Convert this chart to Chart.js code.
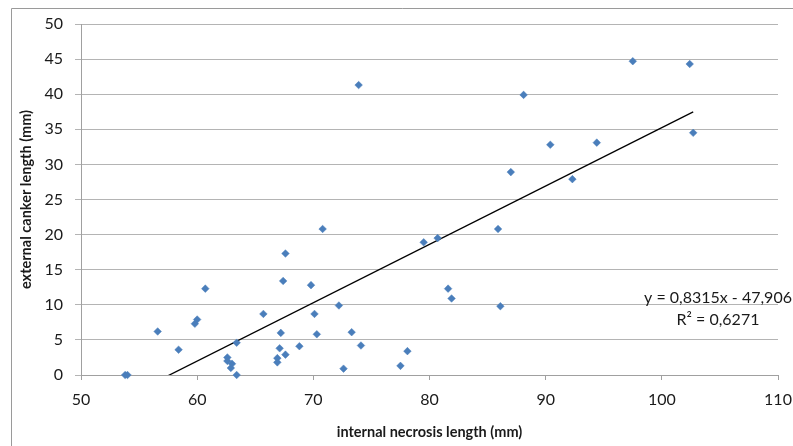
<!DOCTYPE html>
<html>
<head>
<meta charset="utf-8">
<script src="https://cdn.jsdelivr.net/npm/chart.js@4.4.1/dist/chart.umd.min.js"></script>
<style>
  html, body { margin: 0; padding: 0; background: #ffffff; }
  #wrap { width: 793px; height: 446px; }
</style>
</head>
<body>
<div id="wrap"><canvas id="c" width="793" height="446"></canvas></div>
<script>
// Internal necrosis length (mm) for each sample
const necrosis = [
  53.8, 54.0, 56.6, 58.4, 59.8, 60.0, 60.7, 62.6, 62.6, 63.0,
  62.9, 63.4, 63.4, 65.7, 66.9, 66.9, 67.1, 67.2, 67.6, 67.4,
  67.6, 68.8, 69.8, 70.1, 70.3, 70.8, 72.2, 72.6, 73.3, 73.9,
  74.1, 77.5, 78.1, 79.5, 80.7, 81.6, 81.9, 85.9, 86.1, 87.0,
  88.1, 90.4, 92.3, 94.4, 97.5, 102.4, 102.7
];
// External canker length (mm) for the same samples
const canker = [
  0.0, 0.0, 6.2, 3.6, 7.3, 7.9, 12.3, 2.5, 2.0, 1.6,
  1.0, 4.6, 0.0, 8.7, 2.4, 1.8, 3.8, 6.0, 2.9, 13.4,
  17.3, 4.1, 12.8, 8.7, 5.8, 20.8, 9.9, 0.9, 6.1, 41.3,
  4.2, 1.3, 3.4, 18.9, 19.5, 12.3, 10.9, 20.8, 9.8, 28.9,
  39.9, 32.8, 27.9, 33.1, 44.7, 44.3, 34.5
];
// Linear trend fitted to the samples
const trendSlope = 0.8315;
const trendIntercept = -47.906;
const rSquared = 0.6271;

const xTicks = [50, 60, 70, 80, 90, 100, 110];
const yTicks = [0, 5, 10, 15, 20, 25, 30, 35, 40, 45, 50];

const xTitle = 'internal necrosis length (mm)';
const yTitle = 'external canker length (mm)';

const points = necrosis.map((x, i) => ({ x: x, y: canker[i] }));
const xMin = Math.min(...necrosis);
const xMax = Math.max(...necrosis);
const trendPoints = [xMin, xMax].map(x => ({ x: x, y: trendSlope * x + trendIntercept }));

const dec = (v, n) => v.toFixed(n).replace('.', ',');
const eqLine = 'y = ' + dec(trendSlope, 4) + 'x ' + (trendIntercept < 0 ? '- ' : '+ ') + dec(Math.abs(trendIntercept), 3);
const r2Line = 'R\u00B2 = ' + dec(rSquared, 4);

const FONT = 'Lato, "Open Sans", sans-serif';
const TEXT = '#1a1a1a';

// Outer frame of the chart and the regression label
const decorations = {
  id: 'decorations',
  beforeDraw(chart) {
    const ctx = chart.ctx;
    ctx.save();
    ctx.fillStyle = '#ffffff';
    ctx.fillRect(0, 0, chart.width, chart.height);
    ctx.strokeStyle = '#9a9a9a';
    ctx.lineWidth = 1;
    ctx.beginPath();
    ctx.moveTo(11.5, chart.height);
    ctx.lineTo(11.5, 8.5);
    ctx.lineTo(chart.width, 8.5);
    ctx.stroke();
    ctx.restore();
  },
  afterDraw(chart) {
    const ctx = chart.ctx;
    ctx.save();
    ctx.fillStyle = TEXT;
    ctx.font = '16px ' + FONT;
    ctx.textAlign = 'center';
    ctx.textBaseline = 'middle';
    ctx.fillText(eqLine, 718, 297.5);
    ctx.fillText(r2Line, 718, 320);
    ctx.restore();
  }
};

new Chart(document.getElementById('c'), {
  type: 'scatter',
  data: {
    datasets: [
      {
        type: 'line',
        label: 'trend',
        data: trendPoints,
        borderColor: '#000000',
        borderWidth: 1.3,
        pointRadius: 0,
        fill: false,
        clip: 0,
        order: 2
      },
      {
        label: 'samples',
        data: points,
        pointStyle: 'rectRot',
        pointRadius: 3.8,
        backgroundColor: '#4a7ebb',
        borderColor: '#4a7ebb',
        borderWidth: 0.5,
        clip: false,
        order: 1
      }
    ]
  },
  options: {
    responsive: false,
    animation: false,
    devicePixelRatio: 1,
    layout: { padding: { top: 24, right: 15, left: 0, bottom: 0 } },
    plugins: {
      legend: { display: false },
      tooltip: { enabled: false }
    },
    scales: {
      x: {
        type: 'linear',
        min: xTicks[0],
        max: xTicks[xTicks.length - 1],
        afterBuildTicks(scale) { scale.ticks = xTicks.map(v => ({ value: v })); },
        afterFit(scale) {
          scale.height = 71;
          scale.paddingLeft = 0;
          scale.paddingRight = 0;
        },
        ticks: { font: { family: FONT, size: 16 }, color: TEXT, padding: 10, maxRotation: 0 },
        grid: { drawOnChartArea: false, drawTicks: true, tickLength: 5, color: '#a0a0a0' },
        border: { color: '#a0a0a0', width: 1 },
        title: {
          display: true,
          text: xTitle,
          font: { family: FONT, size: 14.5, weight: 'bold' },
          color: TEXT,
          padding: { top: 0, bottom: 5 }
        }
      },
      y: {
        min: yTicks[0],
        max: yTicks[yTicks.length - 1],
        afterBuildTicks(scale) { scale.ticks = yTicks.map(v => ({ value: v })); },
        afterFit(scale) { scale.width = 81; },
        ticks: { font: { family: FONT, size: 16 }, color: TEXT, padding: 12 },
        grid: { color: '#b4b4b4', tickLength: 6, lineWidth: 1 },
        border: { color: '#a0a0a0', width: 1 },
        title: {
          display: true,
          text: yTitle,
          font: { family: FONT, size: 14.5, weight: 'bold' },
          color: TEXT,
          padding: { top: 18, bottom: 0 }
        }
      }
    }
  },
  plugins: [decorations]
});
</script>
</body>
</html>
